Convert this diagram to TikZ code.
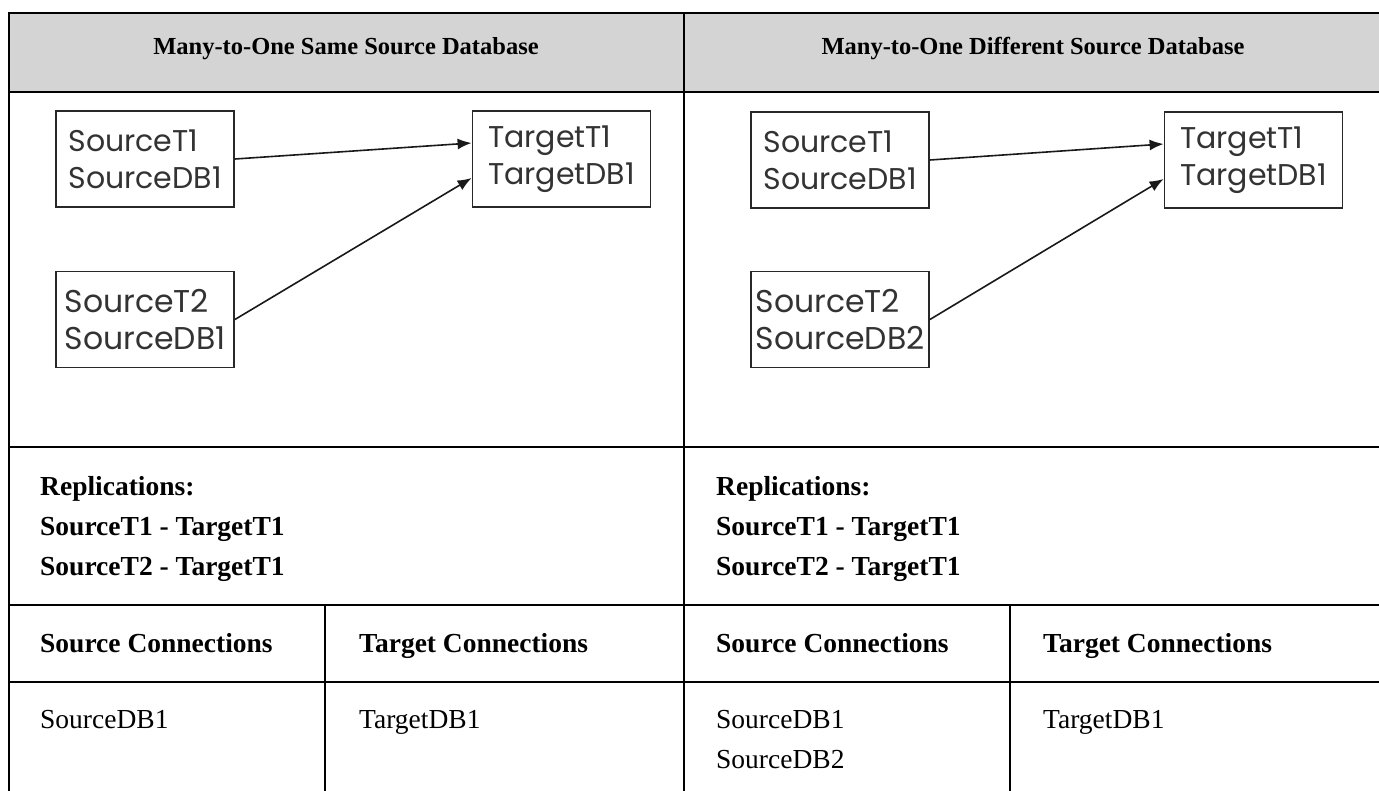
\documentclass[tikz,border=0pt]{standalone}
\usepackage{fontspec}
\setmainfont{Liberation Serif}
\newfontfamily\gothic{Poppins}
\usetikzlibrary{arrows.meta,calc}
\definecolor{hdrgray}{RGB}{212,212,212}
\definecolor{boxline}{RGB}{40,40,40}
\begin{document}
\begin{tikzpicture}[x=1pt,y=-1pt,
  grid/.style={line width=2.2pt, black},
  hdr/.style={font=\fontsize{24.5}{30}\selectfont\bfseries, anchor=base, inner sep=0pt},
  bt/.style={font=\fontsize{27.5}{40}\selectfont\bfseries, anchor=base west, inner sep=0pt},
  rt/.style={font=\fontsize{27.5}{40}\selectfont, anchor=base west, inner sep=0pt},
  dbox/.style={draw=boxline, line width=1.8pt, minimum width=178pt, minimum height=96pt,
    align=left, inner xsep=6pt, text=black!80, font=\gothic\fontsize{30}{37}\selectfont},
  arr/.style={line width=1.6pt, draw=black!90, -{Latex[length=14pt,width=11pt]}}
]
\useasboundingbox (0,0) rectangle (1379,790);
\begin{scope}
\clip (0,0) rectangle (1379,790);
\fill[hdrgray] (9,13) rectangle (1382,92);
\draw[grid] (9,800) -- (9,13) -- (1382,13) -- (1382,800);
\draw[grid] (9,92) -- (1382,92);
\draw[grid] (9,447) -- (1382,447);
\draw[grid] (9,605) -- (1382,605);
\draw[grid] (9,682) -- (1382,682);
\draw[grid] (684,13) -- (684,800);
\draw[grid] (325,605) -- (325,800);
\draw[grid] (1010,605) -- (1010,800);
\end{scope}

% headers
\node[hdr] (h1) at (346,54) {Many-to-One Same Source Database};
\node[hdr] (h2) at (1033,54) {Many-to-One Different Source Database};

% left diagram
\node[dbox] (s1) at (145,159) {SourceT1\\SourceDB1};
\node[dbox] (t1) at (561.5,159) {TargetT1\\TargetDB1};
\node[dbox, inner xsep=2pt, font=\gothic\fontsize{31.5}{37}\selectfont] (s2) at (145,319.5) {SourceT2\\SourceDB1};
\coordinate (t1a) at ($(t1.west)+(0,-16)$);
\coordinate (t1b) at ($(t1.west)+(0,19)$);
\draw[arr] (s1.east) -- (t1a);
\draw[arr] (s2.east) -- (t1b);

% right diagram
\node[dbox] (s1r) at (840,160) {SourceT1\\SourceDB1};
\node[dbox] (t1r) at (1253.5,160) {TargetT1\\TargetDB1};
\node[dbox, inner xsep=2pt, font=\gothic\fontsize{31.5}{37}\selectfont] (s2r) at (840,319.5) {SourceT2\\SourceDB2};
\coordinate (t1ra) at ($(t1r.west)+(0,-16)$);
\coordinate (t1rb) at ($(t1r.west)+(0,19)$);
\draw[arr] (s1r.east) -- (t1ra);
\draw[arr] (s2r.east) -- (t1rb);

% replications
\node[bt] (ra1) at (40,495) {Replications:};
\node[bt] (ra2) at (40,535) {SourceT1 - TargetT1};
\node[bt] (ra3) at (40,575) {SourceT2 - TargetT1};
\node[bt] (rb1) at (716,495) {Replications:};
\node[bt] (rb2) at (716,535) {SourceT1 - TargetT1};
\node[bt] (rb3) at (716,575) {SourceT2 - TargetT1};

% column headers
\node[bt] (c1) at (40,652) {Source Connections};
\node[bt] (c2) at (359,652) {Target Connections};
\node[bt] (c3) at (716,652) {Source Connections};
\node[bt] (c4) at (1043,652) {Target Connections};

% data
\node[rt] (d1) at (40,728) {SourceDB1};
\node[rt] (d2) at (359,728) {TargetDB1};
\node[rt] (d3) at (716,728) {SourceDB1};
\node[rt] (d4) at (716,768) {SourceDB2};
\node[rt] (d5) at (1043,728) {TargetDB1};
\end{tikzpicture}
\end{document}
